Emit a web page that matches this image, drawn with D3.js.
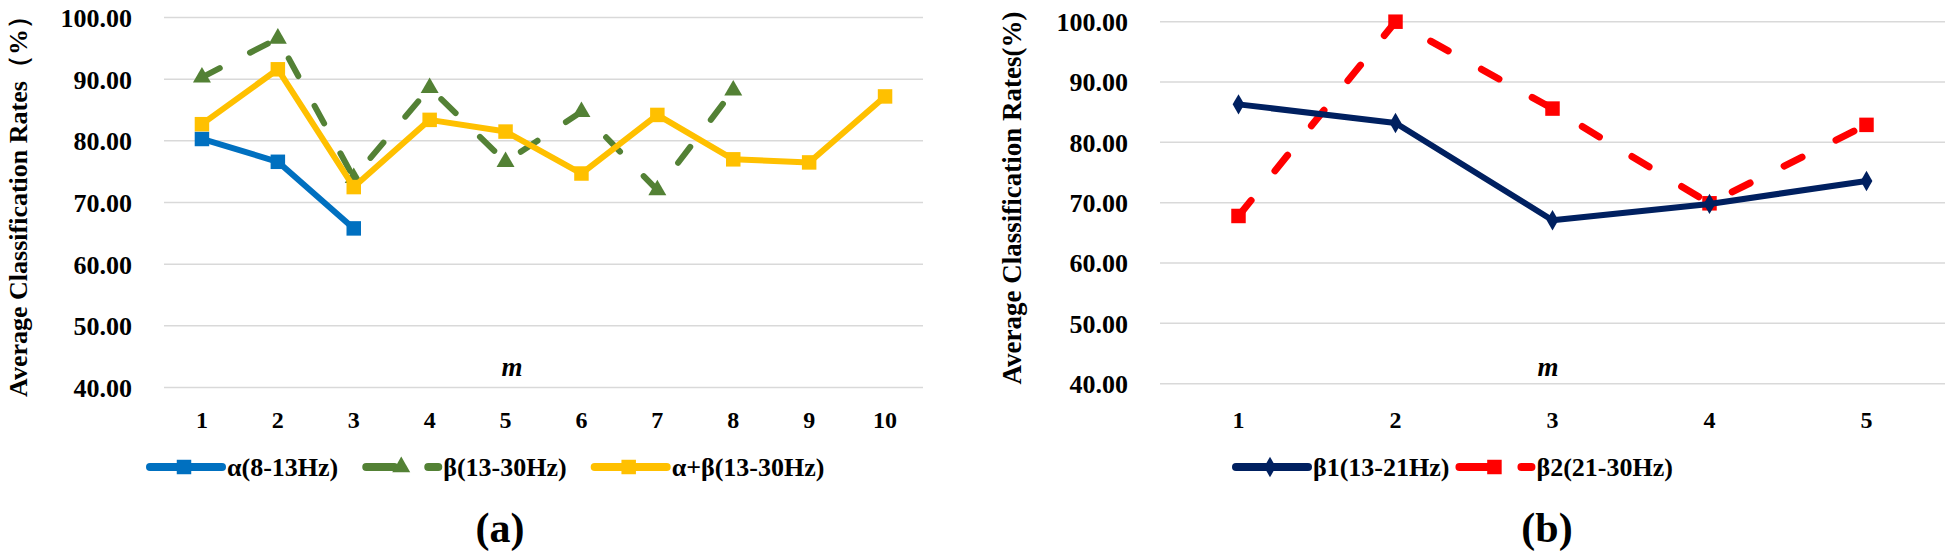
<!DOCTYPE html>
<html>
<head>
<meta charset="utf-8">
<script src="https://cdn.jsdelivr.net/npm/d3@7"></script>
<style>
  body { margin: 0; background: #fff; }
  svg { display: block; }
</style>
</head>
<body>
<div id="chart"></div>
<script>
// values
const yTicks = [40, 50, 60, 70, 80, 90, 100];

const mLeft = [1, 2, 3, 4, 5, 6, 7, 8, 9, 10];
const alphaRates = [80.3, 76.6, 65.8];
const betaRates = [90.3, 96.6, 74.0, 88.6, 76.6, 84.7, 72.0, 88.2];
const alphaBetaRates = [82.7, 91.6, 72.5, 83.4, 81.5, 74.7, 84.2, 77.0, 76.5, 87.2];

const mRight = [1, 2, 3, 4, 5];
const beta1Rates = [86.3, 83.2, 67.1, 69.8, 73.6];
const beta2Rates = [67.8, 100.0, 85.6, 69.9, 82.9];

const width = 1948, height = 556;
const serif = '"Liberation Serif", "Times New Roman", serif';

const svg = d3.select("#chart").append("svg")
  .attr("width", width)
  .attr("height", height);

function symbolPath(type, size) {
  return d3.symbol().type(type).size(size)();
}

function label(sel, size) {
  return sel.style("font-family", serif)
    .style("font-weight", "bold")
    .style("font-size", size + "px")
    .style("fill", "#000");
}

function drawPanel(opts) {
  const g = svg.append("g");
  const x = d3.scaleBand().domain(opts.categories).range([opts.left, opts.right]);
  const y = d3.scaleLinear().domain([40, 100]).range([opts.bottom, opts.top]);
  const cx = d => x(d) + x.bandwidth() / 2;

  // gridlines
  g.selectAll("line.grid")
    .data(yTicks)
    .enter().append("line")
    .attr("x1", opts.left).attr("x2", opts.right)
    .attr("y1", d => y(d)).attr("y2", d => y(d))
    .style("stroke", "#d9d9d9")
    .style("stroke-width", 1.5);

  // y axis labels
  const yAxis = d3.axisLeft(y).tickValues(yTicks).tickFormat(d3.format(".2f")).tickSize(0).tickPadding(32);
  const ya = g.append("g").attr("transform", `translate(${opts.left},0)`).call(yAxis);
  ya.select(".domain").remove();
  label(ya.selectAll("text"), 26).attr("dy", "0.34em");

  // x axis labels
  const xAxis = d3.axisBottom(x).tickSize(0).tickPadding(0);
  const xa = g.append("g").attr("transform", "translate(0,428)").call(xAxis);
  xa.select(".domain").remove();
  label(xa.selectAll("text"), 24).attr("y", 0).attr("dy", 0);

  // y title
  label(g.append("text"), opts.titleSize)
    .attr("transform", `translate(${opts.titleX},${opts.titleY}) rotate(-90)`)
    .attr("text-anchor", "middle")
    .attr("dy", "0.35em")
    .text(opts.yTitle);

  // m label
  label(g.append("text"), 27)
    .attr("x", opts.mX).attr("y", 376)
    .attr("text-anchor", "middle")
    .style("font-style", "italic")
    .text("m");

  // series
  opts.series.forEach(s => {
    const pts = s.values.map((v, i) => [cx(opts.categories[i]), y(v)]);
    g.append("path")
      .attr("d", d3.line()(pts))
      .style("fill", "none")
      .style("stroke", s.color)
      .style("stroke-width", s.width)
      .style("stroke-linecap", s.dash ? "round" : "butt")
      .style("stroke-linejoin", "round")
      .style("stroke-dasharray", s.dash || null);
    g.selectAll(null)
      .data(pts)
      .enter().append("path")
      .attr("transform", d => `translate(${d[0]},${d[1]})`)
      .attr("d", symbolPath(s.symbol, s.symbolSize))
      .style("fill", s.color);
  });

  // legend
  let lx = opts.legendX;
  const ly = 467;
  opts.legendOrder.forEach(k => {
    const s = opts.series[k];
    g.append("line")
      .attr("x1", lx + 4).attr("x2", lx + 76)
      .attr("y1", ly).attr("y2", ly)
      .style("stroke", s.color)
      .style("stroke-width", 8)
      .style("stroke-linecap", "round")
      .style("stroke-dasharray", s.dash ? "28,34,10,200" : null);
    g.append("path")
      .attr("transform", `translate(${lx + (s.dash ? 39 : 38)},${ly})`)
      .attr("d", symbolPath(s.symbol, s.symbolSize))
      .style("fill", s.color);
    const t = label(g.append("text"), 26)
      .attr("x", lx + 81).attr("y", ly)
      .attr("dy", "0.35em")
      .text(s.name);
    lx += 81 + t.node().getComputedTextLength() + opts.legendGap;
  });

  // panel caption
  label(g.append("text"), 42)
    .attr("x", opts.captionX).attr("y", 542)
    .attr("text-anchor", "middle")
    .text(opts.caption);
}

drawPanel({
  categories: mLeft,
  left: 164, right: 923, top: 17.5, bottom: 387.5,
  titleX: 18, titleY: 200, titleSize: 26,
  yTitle: "Average Classification Rates（%）",
  mX: 512,
  legendX: 146,
  legendGap: 24,
  legendOrder: [0, 1, 2],
  captionX: 500,
  caption: "(a)",
  series: [
    { name: "α(8-13Hz)", values: alphaRates, color: "#0070C0", width: 6, symbol: d3.symbolSquare, symbolSize: 210 },
    { name: "β(13-30Hz)", values: betaRates, color: "#538135", width: 6, dash: "20,34", symbol: d3.symbolTriangle, symbolSize: 140 },
    { name: "α+β(13-30Hz)", values: alphaBetaRates, color: "#FFC000", width: 6, symbol: d3.symbolSquare, symbolSize: 210 }
  ]
});

drawPanel({
  categories: mRight,
  left: 1160, right: 1945, top: 21.7, bottom: 383.7,
  titleX: 1012, titleY: 198, titleSize: 27,
  yTitle: "Average Classification Rates(%)",
  mX: 1548,
  legendX: 1232,
  legendGap: 6,
  legendOrder: [1, 0],
  captionX: 1547,
  caption: "(b)",
  series: [
    { name: "β2(21-30Hz)", values: beta2Rates, color: "#FF0000", width: 7, dash: "20,38", symbol: d3.symbolSquare, symbolSize: 210 },
    { name: "β1(13-21Hz)", values: beta1Rates, color: "#002060", width: 6, symbol: d3.symbolDiamond, symbolSize: 120 }
  ]
});
</script>
</body>
</html>
